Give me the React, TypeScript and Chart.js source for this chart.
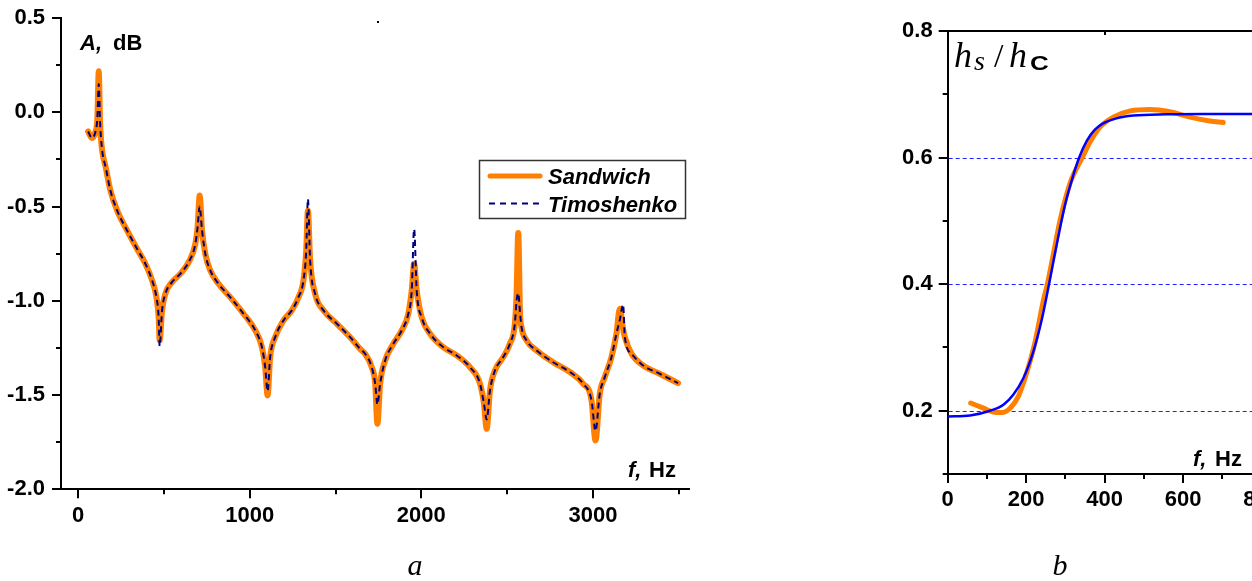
import React, { useEffect, useRef } from 'react';
import { Chart, registerables } from 'chart.js';

Chart.register(...registerables);

const SANS = 'Arial, "Liberation Sans", Helvetica, sans-serif';
const SERIF = '"Times New Roman", "Liberation Serif", serif';

// ---------- Chart a: A (dB) vs f (Hz) ----------
const freqA = [58, 80, 100, 112, 120, 128, 140, 160, 188, 227, 285, 343, 392, 431, 456, 469, 475, 489, 508, 547, 595, 644, 683, 696, 708, 722, 741, 770, 818, 886, 964, 1032, 1071, 1090, 1104, 1119, 1148, 1197, 1245, 1284, 1313, 1329, 1339, 1352, 1381, 1430, 1508, 1585, 1643, 1672, 1711, 1731, 1744, 1760, 1789, 1837, 1886, 1924, 1944, 1958, 1973, 2002, 2051, 2128, 2206, 2283, 2342, 2365, 2381, 2400, 2429, 2477, 2516, 2545, 2555, 2565, 2575, 2584, 2613, 2672, 2768, 2866, 2943, 2992, 3015, 3040, 3069, 3108, 3137, 3157, 3176, 3186, 3225, 3292, 3389, 3496];
const sandwichA = [-0.102, -0.136, -0.106, -0.03, 0.217, -0.06, -0.203, -0.29, -0.415, -0.521, -0.627, -0.724, -0.804, -0.892, -0.981, -1.087, -1.21, -1.051, -0.963, -0.901, -0.857, -0.795, -0.698, -0.61, -0.442, -0.627, -0.751, -0.839, -0.91, -0.981, -1.069, -1.157, -1.246, -1.352, -1.502, -1.299, -1.193, -1.104, -1.051, -0.981, -0.892, -0.733, -0.521, -0.786, -0.963, -1.051, -1.122, -1.193, -1.255, -1.281, -1.352, -1.44, -1.652, -1.44, -1.317, -1.228, -1.157, -1.069, -0.945, -0.804, -0.945, -1.087, -1.175, -1.246, -1.29, -1.352, -1.44, -1.546, -1.679, -1.476, -1.37, -1.299, -1.228, -1.122, -0.963, -0.64, -1.06, -1.14, -1.21, -1.264, -1.326, -1.378, -1.44, -1.529, -1.741, -1.493, -1.405, -1.299, -1.175, -1.042, -1.15, -1.193, -1.281, -1.343, -1.387, -1.437];
const timoshenkoA = [-0.102, -0.136, -0.106, -0.03, 0.15, -0.06, -0.203, -0.29, -0.415, -0.521, -0.627, -0.724, -0.804, -0.892, -0.981, -1.087, -1.24, -1.051, -0.963, -0.901, -0.857, -0.795, -0.698, -0.61, -0.5, -0.627, -0.751, -0.839, -0.91, -0.981, -1.069, -1.157, -1.246, -1.352, -1.48, -1.299, -1.193, -1.104, -1.051, -0.981, -0.892, -0.733, -0.46, -0.786, -0.963, -1.051, -1.122, -1.193, -1.255, -1.281, -1.352, -1.44, -1.55, -1.44, -1.317, -1.228, -1.157, -1.069, -0.945, -0.62, -0.945, -1.087, -1.175, -1.246, -1.29, -1.352, -1.44, -1.546, -1.63, -1.476, -1.37, -1.299, -1.228, -1.122, -1.0, -0.96, -1.06, -1.14, -1.21, -1.264, -1.326, -1.378, -1.44, -1.529, -1.69, -1.493, -1.405, -1.299, -1.175, -1.1, -1.02, -1.193, -1.281, -1.343, -1.387, -1.437];
const xMajorA = [0, 1000, 2000, 3000];
const xMinorA = [500, 1500, 2500, 3500];
const yMajorA = [0.5, 0, -0.5, -1, -1.5, -2];
const yMinorA = [0.25, -0.25, -0.75, -1.25, -1.75];

// ---------- Chart b: hs/hc vs f (Hz) ----------
const freqBOrange = [58.6, 91, 116, 137.5, 159, 180, 201, 222, 244, 254, 270, 286, 300, 315, 330, 343, 363, 388, 422, 465, 515, 566, 617, 668, 702];
const ratioOrange = [0.2121, 0.204, 0.198, 0.197, 0.204, 0.2226, 0.2595, 0.307, 0.375, 0.4, 0.45, 0.5, 0.535, 0.565, 0.585, 0.6, 0.625, 0.648, 0.664, 0.6737, 0.676, 0.6724, 0.664, 0.6579, 0.6553];
const freqBBlue = [0, 57, 108, 142, 167, 193, 218, 240, 256, 270, 285, 300, 318, 335, 355, 375, 396, 430, 473, 558, 650, 800];
const ratioBlue = [0.191, 0.1926, 0.2, 0.2095, 0.2253, 0.2516, 0.293, 0.345, 0.393, 0.438, 0.485, 0.528, 0.568, 0.6, 0.627, 0.644, 0.654, 0.662, 0.6663, 0.6684, 0.669, 0.669];
const xMajorB = [0, 200, 400, 600, 800];
const xMinorB = [100, 300, 500, 700];
const yMajorB = [0.2, 0.4, 0.6, 0.8];
const yMinorB = [0.1, 0.3, 0.5, 0.7];
const gridB = [0.2, 0.4, 0.6];
const topTicksB = [400, 800];

const tickFont = { family: SANS, size: 22, weight: 'bold' as const };

function drawTicks(chart: any, xMaj: number[], xMin: number[], yMaj: number[], yMin: number[]) {
  const { ctx, chartArea, scales } = chart;
  const x = scales.x;
  const y = scales.y;
  ctx.save();
  ctx.strokeStyle = '#000';
  ctx.lineWidth = 2;
  ctx.beginPath();
  xMaj.forEach((v) => {
    const p = Math.round(x.getPixelForValue(v));
    ctx.moveTo(p, chartArea.bottom);
    ctx.lineTo(p, chartArea.bottom + 9);
  });
  xMin.forEach((v) => {
    const p = Math.round(x.getPixelForValue(v));
    ctx.moveTo(p, chartArea.bottom);
    ctx.lineTo(p, chartArea.bottom + 5);
  });
  yMaj.forEach((v) => {
    const p = Math.round(y.getPixelForValue(v));
    ctx.moveTo(chartArea.left, p);
    ctx.lineTo(chartArea.left - 9, p);
  });
  yMin.forEach((v) => {
    const p = Math.round(y.getPixelForValue(v));
    ctx.moveTo(chartArea.left, p);
    ctx.lineTo(chartArea.left - 5, p);
  });
  ctx.stroke();
  ctx.restore();
}

const decorA = {
  id: 'decorA',
  afterDraw(chart: any) {
    const { ctx } = chart;
    drawTicks(chart, xMajorA, xMinorA, yMajorA, yMinorA);
    ctx.save();
    ctx.fillStyle = '#000';
    ctx.textBaseline = 'alphabetic';
    ctx.textAlign = 'left';
    // axis captions
    ctx.font = `italic bold 22px ${SANS}`;
    ctx.fillText('A,', 80, 50);
    ctx.font = `bold 22px ${SANS}`;
    ctx.fillText('dB', 113, 50);
    ctx.font = `italic bold 22px ${SANS}`;
    ctx.fillText('f,', 628, 477);
    ctx.font = `bold 22px ${SANS}`;
    ctx.fillText('Hz', 649, 477);
    // legend
    ctx.strokeStyle = '#333';
    ctx.lineWidth = 1.5;
    ctx.strokeRect(479.5, 160.5, 206, 58);
    ctx.lineCap = 'round';
    ctx.strokeStyle = '#ff8000';
    ctx.lineWidth = 5;
    ctx.beginPath();
    ctx.moveTo(490, 176);
    ctx.lineTo(540, 176);
    ctx.stroke();
    ctx.lineCap = 'butt';
    ctx.strokeStyle = '#000080';
    ctx.lineWidth = 2;
    ctx.setLineDash([6, 5]);
    ctx.beginPath();
    ctx.moveTo(489, 203.5);
    ctx.lineTo(542, 203.5);
    ctx.stroke();
    ctx.setLineDash([]);
    ctx.font = `italic bold 22px ${SANS}`;
    ctx.fillText('Sandwich', 548, 184);
    ctx.fillText('Timoshenko', 548, 211.5);
    // caption
    ctx.font = `italic 30px ${SERIF}`;
    ctx.textAlign = 'center';
    ctx.fillText('a', 415, 575);
    // stray dot
    ctx.fillRect(377, 21, 2, 2);
    ctx.restore();
  },
};

const decorB = {
  id: 'decorB',
  beforeDatasetsDraw(chart: any) {
    const { ctx, chartArea, scales } = chart;
    ctx.save();
    ctx.strokeStyle = '#2020ff';
    ctx.lineWidth = 1;
    ctx.setLineDash([4, 3]);
    gridB.forEach((v) => {
      const p = Math.round(scales.y.getPixelForValue(v)) + 0.5;
      ctx.beginPath();
      ctx.moveTo(chartArea.left + 1, p);
      ctx.lineTo(chartArea.right, p);
      ctx.stroke();
    });
    ctx.restore();
  },
  afterDraw(chart: any) {
    const { ctx, chartArea, scales } = chart;
    drawTicks(chart, xMajorB, xMinorB, yMajorB, yMinorB);
    ctx.save();
    ctx.strokeStyle = '#000';
    ctx.lineWidth = 2;
    ctx.beginPath();
    ctx.moveTo(chartArea.left, chartArea.top);
    ctx.lineTo(chartArea.right, chartArea.top);
    topTicksB.forEach((v) => {
      const p = Math.round(scales.x.getPixelForValue(v));
      ctx.moveTo(p, chartArea.top);
      ctx.lineTo(p, chartArea.top + 4);
    });
    ctx.stroke();
    ctx.fillStyle = '#000';
    ctx.textAlign = 'left';
    ctx.textBaseline = 'alphabetic';
    // hs / hc label
    ctx.font = `italic 36px ${SERIF}`;
    ctx.fillText('h', 84, 67);
    ctx.font = `italic 28px ${SERIF}`;
    ctx.fillText('s', 104, 70);
    ctx.font = `34px ${SERIF}`;
    ctx.fillText('/', 124, 67);
    ctx.font = `italic 36px ${SERIF}`;
    ctx.fillText('h', 139, 67);
    ctx.save();
    ctx.translate(160, 70);
    ctx.scale(1.3, 1);
    ctx.font = `bold 20px ${SANS}`;
    ctx.fillText('C', 0, 0);
    ctx.restore();
    // f, Hz
    ctx.font = `italic bold 22px ${SANS}`;
    ctx.fillText('f,', 323, 466);
    ctx.font = `bold 22px ${SANS}`;
    ctx.fillText('Hz', 345, 466);
    // caption
    ctx.font = `italic 30px ${SERIF}`;
    ctx.textAlign = 'center';
    ctx.fillText('b', 190, 575);
    ctx.restore();
  },
};

function baseScales(xMin: number, xMax: number, yMin: number, yMax: number, xTicks: number[], yTicks: number[], yAxisWidth: number, xAxisHeight: number, yDecimals: number, yPad: number) {
  return {
    x: {
      type: 'linear' as const,
      min: xMin,
      max: xMax,
      afterFit: (s: any) => {
        s.height = xAxisHeight;
        s.paddingLeft = 0; s.paddingRight = 0; s.paddingTop = 0; s.paddingBottom = 0;
      },
      afterBuildTicks: (s: any) => { s.ticks = xTicks.map((v) => ({ value: v })); },
      grid: { display: false, drawOnChartArea: false, drawTicks: false },
      border: { display: true, color: '#000', width: 2 },
      ticks: { font: tickFont, color: '#000', padding: 13, maxRotation: 0, autoSkip: false, callback: (v: any) => String(v) },
    },
    y: {
      type: 'linear' as const,
      min: yMin,
      max: yMax,
      afterFit: (s: any) => {
        s.width = yAxisWidth;
        s.paddingLeft = 0; s.paddingRight = 0; s.paddingTop = 0; s.paddingBottom = 0;
      },
      afterBuildTicks: (s: any) => { s.ticks = yTicks.map((v) => ({ value: v })); },
      grid: { display: false, drawOnChartArea: false, drawTicks: false },
      border: { display: true, color: '#000', width: 2 },
      ticks: { font: tickFont, color: '#000', padding: yPad, autoSkip: false, callback: (v: any) => Number(v).toFixed(yDecimals) },
    },
  };
}

export default function App() {
  const refA = useRef<HTMLCanvasElement>(null);
  const refB = useRef<HTMLCanvasElement>(null);

  useEffect(() => {
    const chartA = new Chart(refA.current as HTMLCanvasElement, {
      type: 'line',
      data: {
        datasets: [
          {
            label: 'Sandwich',
            data: freqA.map((f, i) => ({ x: f, y: sandwichA[i] })),
            borderColor: '#ff8000',
            borderWidth: 6,
            pointRadius: 0,
            cubicInterpolationMode: 'monotone',
            borderCapStyle: 'round',
            borderJoinStyle: 'round',
            order: 2,
          },
          {
            label: 'Timoshenko',
            data: freqA.map((f, i) => ({ x: f, y: timoshenkoA[i] })),
            borderColor: '#000080',
            borderWidth: 2,
            borderDash: [6, 4],
            pointRadius: 0,
            cubicInterpolationMode: 'monotone',
            order: 1,
          },
        ],
      },
      options: {
        animation: false,
        responsive: false,
        events: [],
        layout: { padding: { top: 18, right: 31, left: 0, bottom: 0 } },
        plugins: { legend: { display: false }, tooltip: { enabled: false } },
        scales: baseScales(-100, 3560, -2, 0.5, xMajorA, yMajorA, 61, 91.7, 1, 16) as any,
      },
      plugins: [decorA],
    } as any);

    const chartB = new Chart(refB.current as HTMLCanvasElement, {
      type: 'line',
      data: {
        datasets: [
          {
            label: 'Sandwich',
            data: freqBOrange.map((f, i) => ({ x: f, y: ratioOrange[i] })),
            borderColor: '#ff8000',
            borderWidth: 5,
            pointRadius: 0,
            cubicInterpolationMode: 'monotone',
            borderCapStyle: 'round',
            order: 2,
          },
          {
            label: 'Model',
            data: freqBBlue.map((f, i) => ({ x: f, y: ratioBlue[i] })),
            borderColor: '#0000ff',
            borderWidth: 2.5,
            pointRadius: 0,
            cubicInterpolationMode: 'monotone',
            order: 1,
          },
        ],
      },
      options: {
        animation: false,
        responsive: false,
        events: [],
        layout: { padding: { top: 31, right: 28.3, left: 0, bottom: 0 } },
        plugins: { legend: { display: false }, tooltip: { enabled: false } },
        scales: baseScales(0, 800, 0.1, 0.8, xMajorB, yMajorB, 77.7, 107, 1, 15) as any,
      },
      plugins: [decorB],
    } as any);

    return () => {
      chartA.destroy();
      chartB.destroy();
    };
  }, []);

  return (
    <div style={{ position: 'fixed', left: 0, top: 0, width: 1252, height: 581, overflow: 'hidden', background: '#fff' }}>
      <canvas ref={refA} width={720} height={581} style={{ position: 'absolute', left: 0, top: 0, width: 720, height: 581, display: 'block' }} />
      <canvas ref={refB} width={420} height={581} style={{ position: 'absolute', left: 870, top: 0, width: 420, height: 581, display: 'block' }} />
    </div>
  );
}
